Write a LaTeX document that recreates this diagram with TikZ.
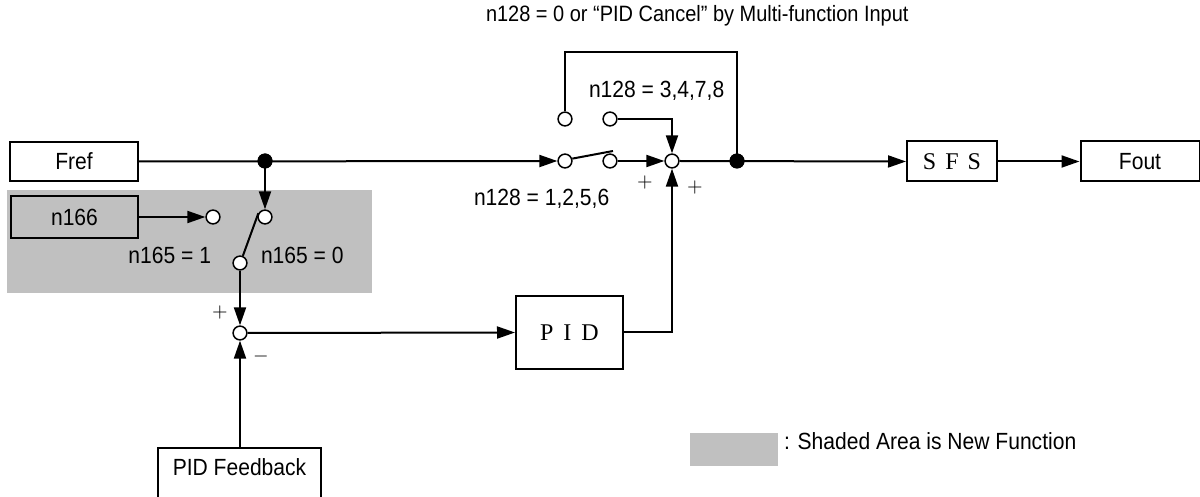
\documentclass[tikz,border=0pt]{standalone}
\usepackage{fontspec}
\setmainfont[FakeStretch=0.9]{Liberation Sans}
\newfontfamily\serifb{Liberation Serif}
\usetikzlibrary{arrows.meta}
\definecolor{shadegray}{RGB}{192,192,192}
\begin{document}
\begin{tikzpicture}[x=0.5pt,y=-0.5pt,
  line width=1pt,
  txt/.style={font=\fontsize{11.7}{13}\selectfont},
  box/.style={draw,rectangle,inner sep=0pt,txt},
  sbox/.style={draw,rectangle,inner sep=0pt,font=\serifb\fontsize{12}{14}\selectfont},
  sw/.style={draw,circle,fill=white,minimum size=6.9pt,inner sep=0pt,line width=0.75pt},
  jdot/.style={circle,fill=black,minimum size=7.5pt,inner sep=0pt},
  lbl/.style={txt,inner sep=0pt},
  sign/.style={inner sep=0pt,font=\fontsize{10}{12}\selectfont},
  arr/.style={-{Triangle[length=9pt,width=6pt]}},
]
\useasboundingbox (0,0) rectangle (1200,497);
\clip (0,0) rectangle (1200,497);
% shaded area
\fill[shadegray] (7,190) rectangle (372,293);
% boxes
\node[box,minimum width=64pt,minimum height=19.5pt] (fref) at (74,161.5) {Fref};
\node[box,fill=shadegray,minimum width=63.5pt,minimum height=21pt] (n166) at (74.5,217) {n166};
\node[sbox,minimum width=45pt,minimum height=20pt] (sfs) at (952,161.5) {S\hspace{4.5pt}F\hspace{4.5pt}S};
\node[box,minimum width=59.5pt,minimum height=20pt] (fout) at (1140,161.5) {Fout};
\node[sbox,minimum width=53.5pt,minimum height=36.5pt] (pid) at (569.5,332.5) {P\hspace{5pt}I\hspace{5pt}D};
\node[box,anchor=north,minimum width=81.5pt,text height=13.5pt,text depth=30pt] (pidfb) at (239.5,447) {PID Feedback};
% junction dots and switch contacts
\node[jdot] (j1) at (265,161) {};
\node[jdot] (j2) at (737,161) {};
\node[sw] (s166) at (213,217) {};
\node[sw] (sa) at (265,217) {};
\node[sw] (sb) at (240,263) {};
\node[sw] (sum1) at (240,333) {};
\node[sw] (c1) at (565,161) {};
\node[sw] (c2) at (610,161) {};
\node[sw] (c3) at (565,119) {};
\node[sw] (c4) at (610,119) {};
\node[sw] (sum2) at (672,161) {};
\coordinate (lev1) at (613,151);
\coordinate (topleft) at (565,52);
% connectors
\draw[arr] (fref.east) -- (c1.west);
\draw (c1.18) -- (lev1);
\draw[arr] (c2.east) -- (sum2.west);
\draw[arr] (sum2.east) -- (sfs.west);
\draw[arr] (sfs.east) -- (fout.west);
\draw[arr] (c4.east) -| (sum2.north);
\draw (c3.north) -- (topleft) -| (j2.center);
\draw[arr] (j1.center) -- (sa.north);
\draw[arr] (n166.east) -- (s166.west);
\draw (sb.68) -- (sa.150);
\draw[arr] (sb.south) -- (sum1.north);
\draw[arr] (pidfb.north -| sum1) -- (sum1.south);
\draw[arr] (sum1.east) -- (pid.west);
\draw[arr] (pid.east) -| (sum2.south);
% redraw junction dots on top
\node[jdot] at (j1) {};
\node[jdot] at (j2) {};
% labels
\node[lbl,anchor=base west,font=\fontsize{11.1}{13}\selectfont] (ltop) at (485,22) {n128 = 0 or “PID Cancel” by Multi-function Input};
\node[lbl,anchor=base west] (l3478) at (588,98) {n128 = 3,4,7,8};
\node[lbl,anchor=base west] (l1256) at (473,206) {n128 = 1,2,5,6};
\node[lbl,anchor=base east] (l1651) at (212,264) {n165 = 1};
\node[lbl,anchor=base west] (l1650) at (260,264) {n165 = 0};
\node[sign] (p1) at (220,313) {$+$};
\node[sign] (m1) at (261,357) {$-$};
\node[sign] (p2) at (645,183) {$+$};
\node[sign] (p3) at (695,188) {$+$};
% legend
\fill[shadegray] (690,433) rectangle (778,466);
\node[lbl,anchor=base west] (leg) at (783,449) {: Shaded Area is New Function};
\end{tikzpicture}
\end{document}
